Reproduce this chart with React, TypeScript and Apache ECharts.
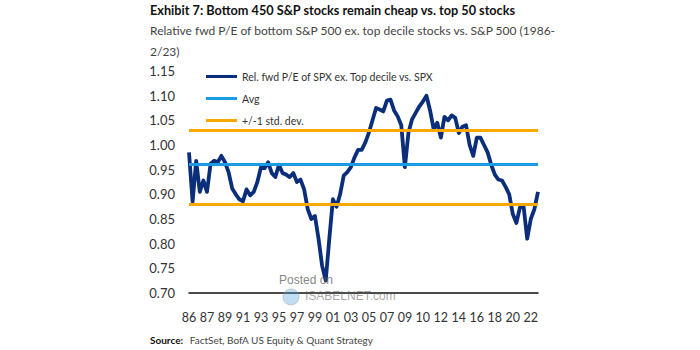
import React, { useEffect, useRef } from "react";
import * as echarts from "echarts";

const tickLabels = ["86","87","89","91","93","95","97","99","01","03","05","07","09","10","12","14","16","18","20","22"];

const relPE = [
  0.985, 0.885, 0.968, 0.905, 0.928, 0.905, 0.962, 0.968, 0.965, 0.978,
  0.965, 0.945, 0.912, 0.9, 0.89, 0.886, 0.91, 0.898, 0.905, 0.925,
  0.955, 0.953, 0.965, 0.943, 0.935, 0.96, 0.943, 0.94, 0.935, 0.943,
  0.925, 0.93, 0.91, 0.87, 0.85, 0.856, 0.81, 0.755, 0.725, 0.81,
  0.89, 0.875, 0.9, 0.938, 0.945, 0.955, 0.975, 0.99, 0.99, 1.005,
  1.025, 1.05, 1.075, 1.072, 1.068, 1.09, 1.092, 1.07, 1.058, 1.04,
  0.955, 1.025, 1.052, 1.065, 1.078, 1.088, 1.1, 1.07, 1.032, 1.045,
  1.015, 1.057, 1.05, 1.06, 1.055, 1.024, 1.037, 1.04, 1.0, 0.978,
  1.015, 1.015, 1.0, 0.985, 0.96, 0.94, 0.93, 0.928, 0.915, 0.9,
  0.86, 0.842, 0.874, 0.875, 0.81, 0.85, 0.87, 0.905
];

const periods = relPE.map((_, i) => String(i));
const avgValue = 0.957;
const upperStd = 1.034;
const lowerStd = 0.882;
const seriesNames = ["Rel. fwd P/E of SPX ex. Top decile vs. SPX", "Avg", "+/-1 std. dev."];

const FONT = "Lato, 'Liberation Sans', sans-serif";
const NAVY = "#0b2e7a";
const BLUE = "#1a9be3";
const ORANGE = "#f9a800";

export default function App() {
  const ref = useRef<HTMLDivElement>(null);
  useEffect(() => {
    if (!ref.current) return;
    const chart = echarts.init(ref.current, undefined, { renderer: "svg" });
    chart.setOption({
      animation: false,
      backgroundColor: "#ffffff",
      textStyle: { fontFamily: FONT },
      grid: { left: 189, right: 162, top: 71, bottom: 57, containLabel: false },
      legend: {
        orient: "vertical",
        left: 201,
        top: 66,
        itemGap: 11,
        icon: "rect",
        itemWidth: 31,
        itemHeight: 3,
        textStyle: { fontFamily: FONT, fontSize: 10.5, color: "#333" },
        data: seriesNames,
      },
      xAxis: {
        type: "category",
        data: periods,
        boundaryGap: false,
        axisLine: { lineStyle: { color: "#111", width: 1.5 } },
        axisTick: { show: false },
        axisLabel: {
          interval: (i: number) => i % 5 === 0,
          formatter: (_v: string, i: number) => tickLabels[i / 5] ?? "",
          fontFamily: FONT,
          fontSize: 12.5,
          color: "#333",
          margin: 18,
        },
        splitLine: { show: false },
      },
      yAxis: {
        type: "value",
        min: 0.7,
        max: 1.15,
        interval: 0.05,
        axisLine: { show: false },
        axisTick: { show: false },
        splitLine: { show: false },
        axisLabel: {
          formatter: (v: number) => v.toFixed(2),
          fontFamily: FONT,
          fontSize: 13,
          color: "#333",
          margin: 14,
        },
      },
      series: [
        {
          name: seriesNames[0],
          type: "line",
          data: relPE,
          showSymbol: false,
          symbol: "none",
          lineStyle: { color: NAVY, width: 3.8, join: "round" },
          itemStyle: { color: NAVY },
          z: 3,
        },
        {
          name: seriesNames[1],
          type: "line",
          data: [],
          symbol: "none",
          itemStyle: { color: BLUE },
          lineStyle: { color: BLUE, width: 3 },
          markLine: {
            silent: true,
            symbol: "none",
            label: { show: false },
            lineStyle: { color: BLUE, width: 3, type: "solid" },
            data: [{ yAxis: avgValue }],
          },
          z: 2,
        },
        {
          name: seriesNames[2],
          type: "line",
          data: [],
          symbol: "none",
          itemStyle: { color: ORANGE },
          lineStyle: { color: ORANGE, width: 3 },
          markLine: {
            silent: true,
            symbol: "none",
            label: { show: false },
            lineStyle: { color: ORANGE, width: 3, type: "solid" },
            data: [{ yAxis: upperStd }, { yAxis: lowerStd }],
          },
          z: 2,
        },
      ],
      graphic: [
        {
          type: "text",
          left: 150,
          top: 3,
          style: {
            text: "Exhibit 7: Bottom 450 S&P stocks remain cheap vs. top 50 stocks",
            fontFamily: FONT,
            fontWeight: "bold",
            fontSize: 12.7,
            fill: "#111",
          },
        },
        {
          type: "text",
          left: 150,
          top: 20,
          style: {
            text: "Relative fwd P/E of bottom S&P 500 ex. top decile stocks vs. S&P 500 (1986-\n2/23)",
            fontFamily: FONT,
            fontSize: 12,
            lineHeight: 21,
            fill: "#444",
          },
        },
        {
          type: "text",
          left: 150,
          top: 334,
          style: {
            rich: {
              b: { fontFamily: FONT, fontWeight: "bold", fontSize: 10, fill: "#111" },
              n: { fontFamily: FONT, fontSize: 10, fill: "#444" },
            },
            text: "{b|Source:}  {n|FactSet, BofA US Equity & Quant Strategy}",
          },
        },
        {
          type: "text",
          left: 279,
          top: 274,
          style: { text: "Posted on", fontFamily: "'Liberation Sans', sans-serif", fontSize: 12, fill: "rgba(90,90,90,0.75)" },
          z: 10,
        },
        {
          type: "text",
          left: 305,
          top: 290,
          style: { text: "ISABELNET.com", fontFamily: "'Liberation Sans', sans-serif", fontSize: 12, fill: "rgba(90,90,90,0.55)" },
          z: 10,
        },
        {
          type: "circle",
          shape: { cx: 291, cy: 297, r: 8 },
          style: { fill: "rgba(80,160,220,0.35)", stroke: "rgba(150,150,150,0.4)", lineWidth: 1 },
          z: 10,
        },
      ],
    });
    return () => chart.dispose();
  }, []);
  return <div ref={ref} style={{ position: "absolute", left: 0, top: 0, width: 700, height: 350 }} />;
}
